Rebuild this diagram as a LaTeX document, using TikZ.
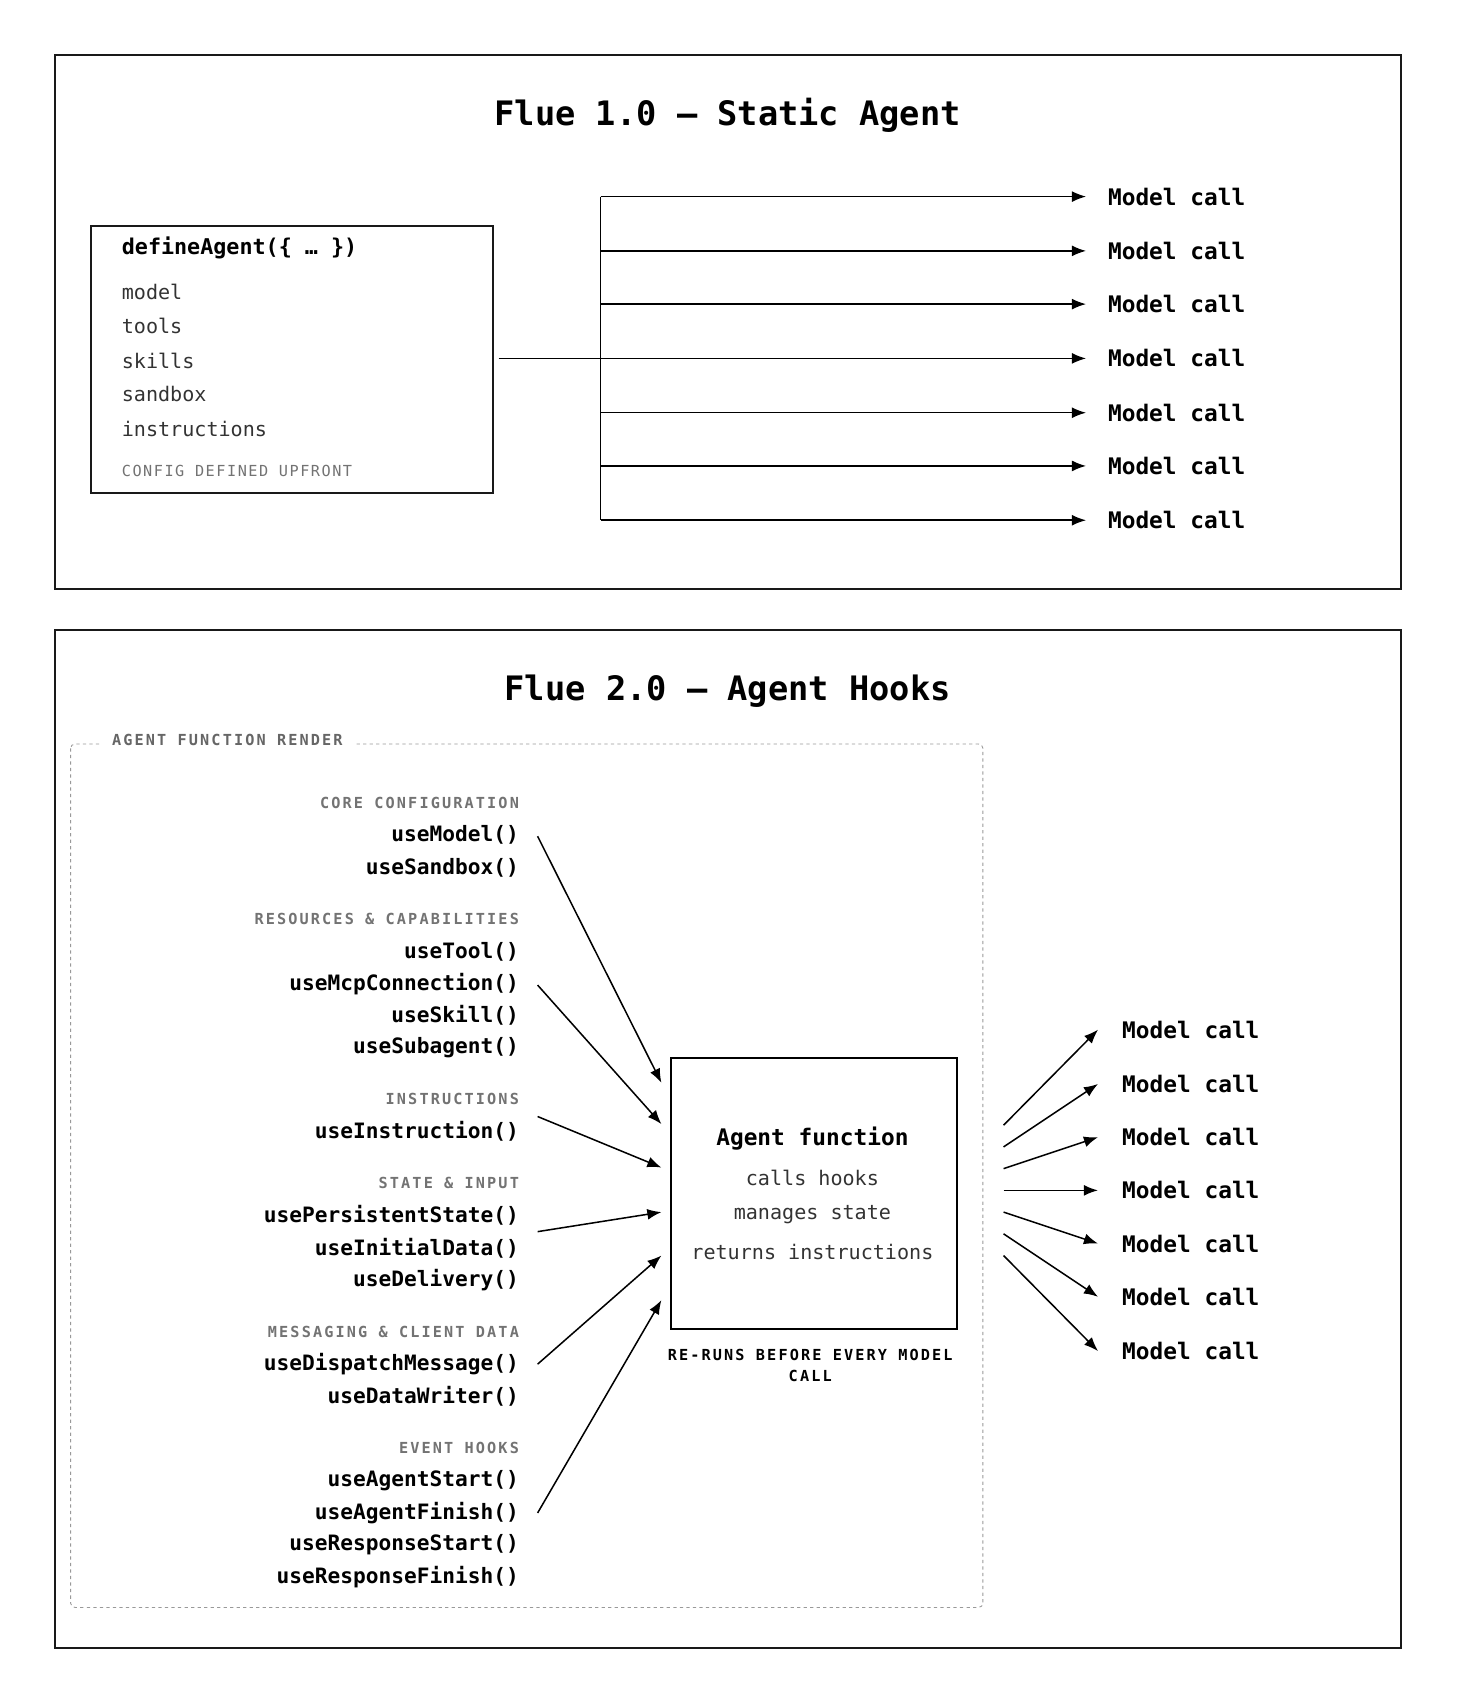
\documentclass[tikz,border=0pt]{standalone}
\usepackage{fontspec}
\setmainfont{DejaVu Sans Mono}
\usetikzlibrary{arrows.meta}
\begin{document}
\begin{tikzpicture}[x=1pt,y=-1pt,
  frame/.style={draw=black!90,line width=2pt},
  arr/.style={-{Latex[length=13pt,width=10pt]},line width=1.4pt},
  title/.style={font=\fontsize{31}{34}\selectfont\bfseries},
  mc/.style={anchor=west,font=\fontsize{21}{24}\selectfont\bfseries},
  code/.style={anchor=east,font=\fontsize{19.5}{22}\selectfont\bfseries},
  sec/.style={anchor=east,text=black!55,font=\fontsize{14}{16}\selectfont\addfontfeature{LetterSpace=14}\bfseries},
  item/.style={anchor=west,text=black!80,font=\fontsize{18.5}{21}\selectfont},
  inner sep=0pt]
\useasboundingbox[fill=white] (0,0) rectangle (1341,1568);
% ---------- top panel
\draw[frame] (51,51) rectangle (1290,542);
\node[title] (t1) at (670,106) {Flue 1.0 — Static Agent};
\node[frame,draw,minimum width=370pt,minimum height=246pt,anchor=north west] (def) at (83,207) {};
\node[anchor=west,font=\fontsize{20}{22}\selectfont\bfseries] (dh) at (112,228) {defineAgent(\{ … \})};
\foreach \t/\y in {model/269,tools/300,skills/332,sandbox/363,instructions/395}
  \node[item] (i\t) at (112,\y) {\t};
\node[anchor=west,text=black!55,font=\fontsize{14}{16}\selectfont\addfontfeature{LetterSpace=10}] (cfg) at (112,434) {CONFIG DEFINED UPFRONT};
\coordinate (src) at (459,330);
\coordinate (br) at (553,330);
\draw[line width=1.4pt] (src) -- (br);
\draw[line width=1.4pt] (553,181) coordinate (vt) -- (553,479) coordinate (vb);
\foreach \y [count=\i] in {181,231,280,330,380,429,479}{
  \node[mc] (m\i) at (1020,\y) {Model call};
  \draw[arr] (553,\y) -- (1000,\y);
}
% ---------- bottom panel
\draw[frame] (51,580) rectangle (1290,1517);
\node[title] (t2) at (670,636) {Flue 2.0 — Agent Hooks};
\draw[black!40,dashed,line width=0.8pt,rounded corners=4pt] (65,685) rectangle (905,1480);
\node[anchor=west,fill=white,inner xsep=10pt,text=black!60,font=\fontsize{14}{16}\selectfont\addfontfeature{LetterSpace=14}\bfseries] (afr) at (93,681) {AGENT FUNCTION RENDER};
\foreach \t/\y in {CORE CONFIGURATION/739,RESOURCES \& CAPABILITIES/846,INSTRUCTIONS/1012,STATE \& INPUT/1089,MESSAGING \& CLIENT DATA/1226,EVENT HOOKS/1333}
  \node[sec] at (478,\y) {\t};
\foreach \t/\y in {useModel/769,useSandbox/799,useTool/876,useMcpConnection/906,useSkill/935,useSubagent/965,useInstruction/1042,usePersistentState/1119,useInitialData/1149,useDelivery/1179,useDispatchMessage/1256,useDataWriter/1286,useAgentStart/1363,useAgentFinish/1393,useResponseStart/1422,useResponseFinish/1452}
  \node[code] (\t) at (478,\y) {\t()};
\node[draw,line width=2pt,minimum width=263pt,minimum height=250pt,anchor=north west] (af) at (617,973) {};
\node[font=\fontsize{21}{24}\selectfont\bfseries] (aft) at (748,1048) {Agent function};
\foreach \t/\y in {calls hooks/1085,manages state/1118,returns instructions/1153}
  \node[text=black!80,font=\fontsize{18.5}{21}\selectfont] at (748,\y) {\t};
\node[align=center,font=\fontsize{14}{19}\selectfont\addfontfeature{LetterSpace=14}\bfseries] (rr) at (746,1257) {RE-RUNS BEFORE EVERY MODEL\\CALL};
\foreach \a/\b/\c/\d in {495/770/609/997,495/907/609/1035,495/1028/609/1075,495/1134/609/1116,495/1256/609/1156,495/1393/609/1197}
  \draw[arr] (\a,\b) -- (\c,\d);
\foreach \ys/\ye [count=\i] in {1036/948,1056/998,1076/1047,1096/1096,1116/1145,1136/1194,1156/1244}{
  \node[mc] (n\i) at (1033,\ye) {Model call};
  \draw[arr] (924,\ys) -- (1011,\ye);
}
\end{tikzpicture}
\end{document}
